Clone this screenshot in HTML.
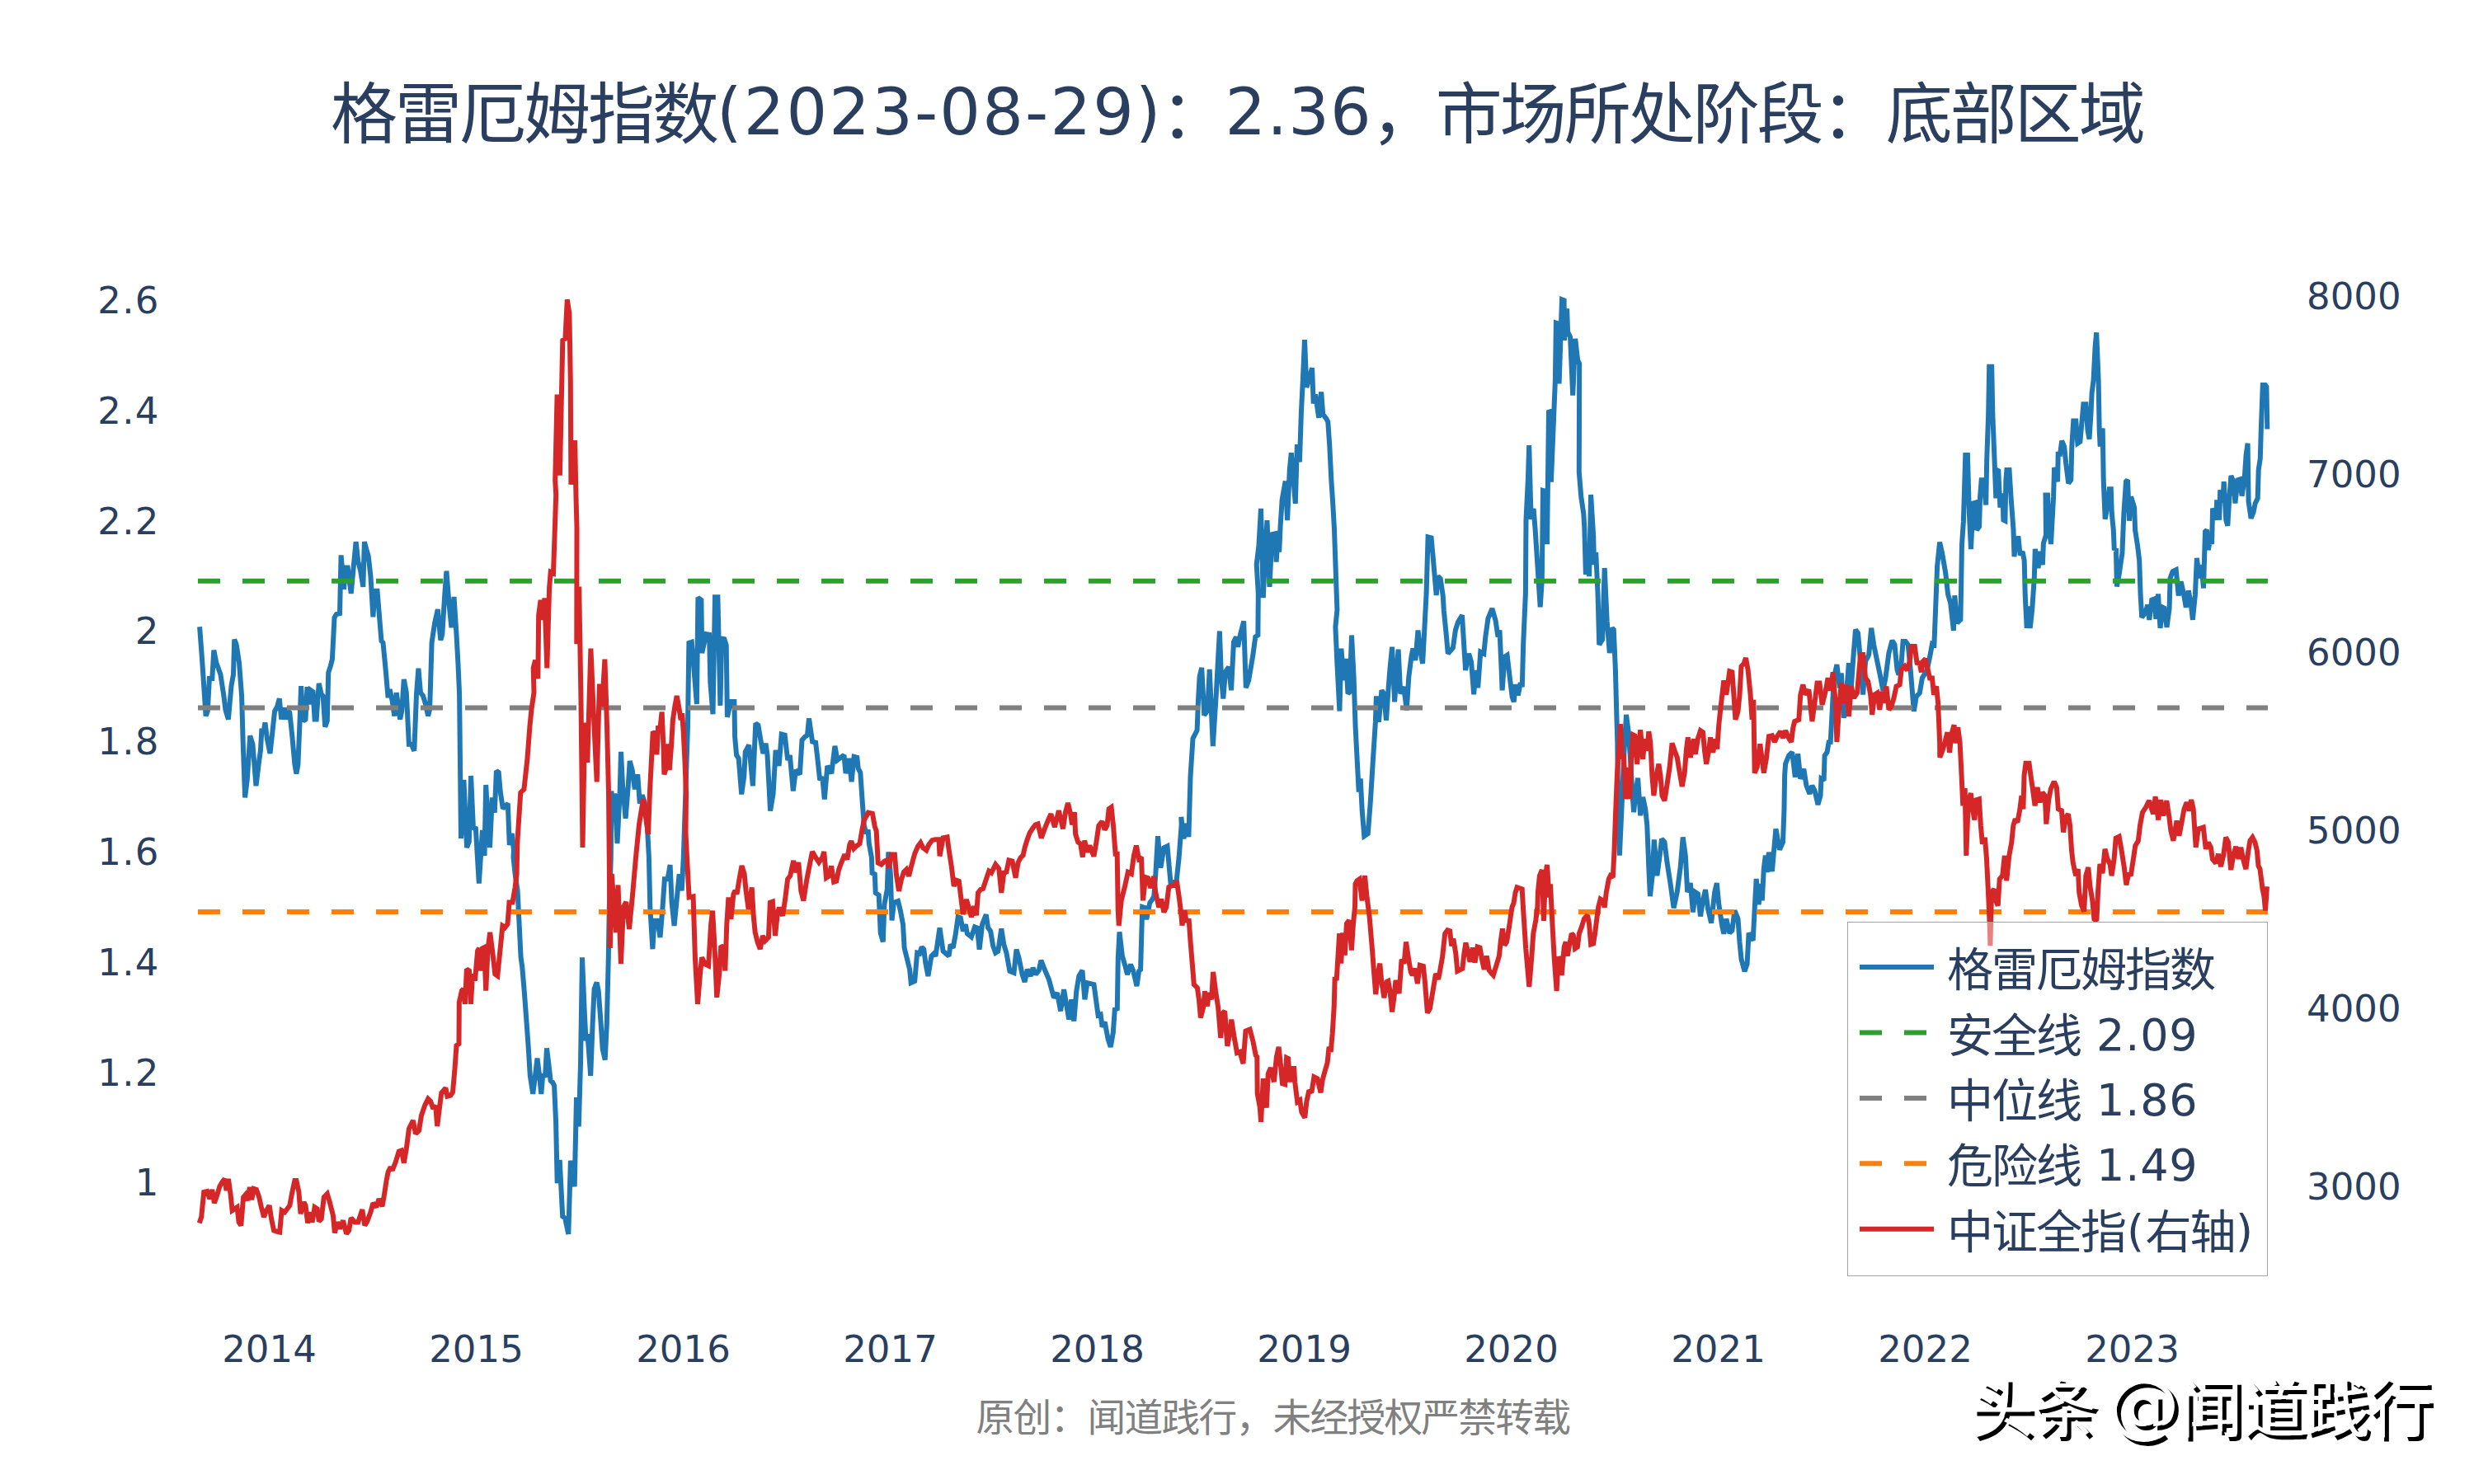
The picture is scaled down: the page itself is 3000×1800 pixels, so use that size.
<!DOCTYPE html>
<html lang="zh"><head><meta charset="utf-8"><title>格雷厄姆指数</title>
<style>
html,body{margin:0;padding:0;background:#fff;}
body{width:3000px;height:1800px;overflow:hidden;}
svg{display:block;}
text{font-family:"DejaVu Sans", "Noto Sans CJK SC", sans-serif;fill:#2a3f5f;}
.tick{font-size:45px;}
.leg{font-size:54px;}
</style></head><body>
<svg width="3000" height="1800" viewBox="0 0 3000 1800">
<rect width="3000" height="1800" fill="#fff"/>
<text x="401.0" y="167.0" style="font-size:81.00px;letter-spacing:-3.00px;">格雷厄姆指数</text>
<text x="869.0" y="163.0" textLength="538.5" style="font-size:78px;">(2023-08-29)</text>
<text x="1407.5" y="167.0" style="font-size:81.00px;letter-spacing:-3.00px;">：</text>
<text x="1485.5" y="163.0" textLength="177.2" style="font-size:78px;">2.36</text>
<text x="1662.7" y="167.0" style="font-size:81.00px;letter-spacing:-3.00px;">，市场所处阶段：底部区域</text>
<path d="M242.1,760.3 L245.2,801.7 L249.6,868.5 L251.8,862.4 L253.9,823.0 L257.3,823.0 L259.3,788.6 L262.3,803.8 L267.4,817.9 L271.4,844.2 L273.5,861.4 L276.9,872.5 L280.5,832.1 L283.0,817.9 L284.2,775.5 L286.6,781.5 L290.0,803.8 L293.1,844.2 L294.7,900.8 L297.1,967.3 L299.8,945.1 L303.2,892.5 L306.4,902.6 L310.5,953.2 L313.9,924.9 L315.9,910.7 L317.3,886.5 L320.0,886.5 L321.4,876.4 L324.0,896.8 L327.5,914.0 L330.5,886.7 L333.1,862.4 L336.1,857.3 L338.8,847.2 L341.2,872.5 L344.2,858.4 L346.3,872.5 L349.3,862.4 L351.3,864.4 L354.3,892.7 L357.4,927.1 L359.4,938.6 L361.4,927.1 L363.4,878.6 L365.1,832.1 L367.5,874.5 L370.5,872.5 L372.5,833.1 L374.6,854.3 L376.6,837.1 L379.6,839.2 L381.6,872.5 L383.7,872.5 L386.7,829.0 L389.7,842.2 L391.7,844.2 L394.2,881.6 L396.8,874.5 L398.2,815.9 L400.8,807.8 L402.9,799.7 L405.5,749.2 L407.9,745.1 L412.0,744.1 L413.6,673.4 L417.0,714.8 L419.0,688.5 L421.7,688.5 L425.7,719.9 L429.2,682.5 L431.6,657.2 L434.2,680.4 L437.2,692.6 L440.3,711.8 L441.9,657.2 L444.3,666.3 L446.7,674.4 L449.4,698.6 L452.4,748.2 L454.4,716.8 L457.5,716.8 L460.5,753.2 L462.5,777.5 L464.5,779.5 L467.6,811.9 L470.6,846.2 L472.6,836.1 L475.7,850.3 L478.3,868.5 L480.7,840.2 L485.2,872.5 L487.2,862.4 L489.8,824.0 L492.8,840.2 L495.9,902.8 L498.9,902.8 L502.3,910.7 L505.0,842.2 L507.4,810.8 L510.0,840.2 L513.1,844.2 L516.1,854.3 L519.1,868.5 L521.1,860.4 L523.6,779.5 L527.2,755.2 L530.8,739.1 L534.3,776.5 L536.3,769.4 L539.3,720.9 L541.4,692.6 L544.4,731.0 L547.4,761.3 L550.5,723.9 L553.5,769.4 L555.5,805.8 L557.1,842.2 L559.0,1017.0 L562.4,946.0 L566.1,1028.0 L568.8,1021.0 L571.1,941.0 L573.9,1004.0 L576.9,1005.0 L580.8,1071.5 L585.0,1007.0 L587.5,1038.0 L589.2,952.0 L592.0,1003.0 L594.0,1028.0 L596.8,967.5 L599.8,985.7 L601.9,935.0 L604.7,937.0 L606.7,960.0 L609.8,980.7 L615.8,974.6 L617.8,1025.0 L620.9,1011.0 L622.9,1031.0 L622.5,1040.0 L624.6,1060.2 L627.6,1080.4 L629.6,1120.9 L631.6,1161.3 L633.3,1173.4 L635.7,1201.7 L638.7,1242.2 L640.7,1270.3 L642.8,1304.7 L646.2,1326.9 L648.8,1306.7 L651.5,1283.5 L653.9,1302.7 L656.3,1326.9 L658.3,1302.7 L661.0,1306.7 L663.0,1271.3 L665.4,1290.5 L667.6,1310.8 L670.1,1312.8 L672.1,1316.8 L674.1,1361.3 L675.7,1435.1 L678.7,1406.8 L682.2,1475.5 L685.2,1477.6 L689.3,1496.8 L691.9,1407.8 L696.7,1439.2 L699.0,1331.0 L701.8,1366.4 L704.0,1290.5 L706.0,1161.3 L708.5,1222.0 L710.5,1262.4 L712.5,1254.3 L716.2,1304.9 L718.6,1242.2 L720.6,1199.7 L723.6,1191.6 L725.7,1201.7 L728.7,1242.2 L730.7,1272.5 L733.7,1285.7 L735.8,1242.2 L737.8,1161.3 L738.8,1100.7 L740.8,1040.0 L741.4,959.4 L743.5,992.7 L745.5,962.4 L748.5,1023.1 L751.6,962.4 L753.0,911.9 L755.0,952.3 L758.6,992.7 L761.7,954.3 L763.7,923.0 L766.7,934.1 L769.8,957.3 L773.2,939.2 L775.8,974.5 L778.9,964.4 L781.9,974.5 L784.9,1002.8 L786.9,1040.0 L788.3,1100.7 L791.4,1151.2 L793.4,1116.8 L797.4,1116.8 L800.5,1137.0 L803.5,1100.7 L805.9,1066.3 L809.6,1066.3 L812.6,1049.1 L814.6,1094.6 L817.6,1122.9 L821.7,1080.4 L823.7,1060.2 L826.7,1080.4 L828.8,1040.0 L834.0,880.0 L835.4,780.0 L838.8,778.8 L844.9,854.0 L846.4,724.9 L850.4,727.9 L851.2,792.2 L856.4,769.1 L860.1,769.7 L861.3,827.3 L864.5,866.2 L867.0,724.3 L870.4,724.3 L873.4,855.9 L875.2,774.6 L878.3,775.2 L880.7,782.5 L881.9,869.8 L886.1,851.0 L890.4,851.0 L891.1,893.7 L893.1,915.9 L895.7,919.9 L899.2,963.4 L902.2,942.2 L903.8,911.9 L908.2,903.8 L912.9,953.3 L916.3,877.5 L919.4,879.5 L922.4,897.7 L925.4,913.9 L928.5,901.7 L930.5,915.9 L934.1,983.6 L937.6,962.4 L940.6,909.8 L944.6,929.0 L947.7,890.6 L951.7,891.6 L955.2,922.0 L957.8,915.9 L961.8,959.4 L964.9,934.1 L969.9,939.2 L972.5,897.7 L976.0,893.7 L979.0,891.6 L981.0,871.4 L985.1,899.7 L989.1,900.7 L991.1,917.9 L994.2,946.2 L997.2,942.2 L999.8,969.5 L1003.3,929.0 L1008.3,938.1 L1012.4,904.8 L1015.4,922.0 L1023.5,915.9 L1025.5,938.1 L1029.6,919.9 L1032.6,948.2 L1035.6,917.9 L1039.3,918.9 L1040.7,932.1 L1043.3,937.1 L1045.7,972.5 L1047.8,1000.8 L1049.8,1008.9 L1052.8,1008.9 L1053.8,1023.1 L1056.9,1040.0 L1057.6,1060.7 L1060.7,1058.6 L1061.7,1082.9 L1065.7,1085.9 L1067.7,1131.4 L1070.8,1142.5 L1072.4,1097.0 L1075.8,1078.9 L1077.4,1033.4 L1079.9,1060.7 L1081.5,1116.3 L1083.9,1095.0 L1089.0,1093.0 L1092.0,1105.1 L1095.0,1121.3 L1096.6,1149.6 L1100.1,1163.8 L1103.1,1175.9 L1104.7,1192.1 L1109.2,1190.1 L1112.2,1155.7 L1115.2,1156.7 L1117.7,1148.6 L1120.3,1151.6 L1122.3,1167.8 L1125.4,1184.0 L1129.4,1159.7 L1132.4,1156.7 L1134.5,1159.7 L1139.5,1125.4 L1143.6,1153.7 L1150.6,1159.7 L1152.6,1145.6 L1155.7,1149.6 L1158.7,1133.4 L1161.7,1112.2 L1164.8,1113.2 L1167.8,1129.4 L1170.8,1121.3 L1172.9,1132.4 L1177.9,1136.5 L1182.0,1124.3 L1185.0,1125.4 L1187.6,1151.6 L1191.1,1121.3 L1195.7,1109.2 L1198.1,1125.4 L1201.2,1129.4 L1204.2,1147.6 L1207.2,1155.7 L1210.3,1153.7 L1214.3,1126.4 L1217.3,1145.6 L1220.4,1155.7 L1224.4,1177.9 L1229.5,1179.9 L1232.5,1151.6 L1235.5,1161.7 L1239.6,1182.0 L1242.6,1191.1 L1245.7,1175.9 L1249.7,1184.0 L1252.7,1173.9 L1255.8,1182.0 L1259.8,1176.9 L1262.4,1164.8 L1265.9,1173.9 L1271.9,1188.0 L1278.0,1210.3 L1282.0,1204.2 L1286.1,1226.4 L1290.1,1200.2 L1296.2,1236.6 L1299.2,1212.3 L1302.3,1238.6 L1305.3,1202.2 L1308.3,1184.0 L1312.4,1176.9 L1315.4,1212.3 L1318.4,1192.1 L1326.5,1194.1 L1331.6,1231.5 L1334.6,1230.5 L1336.6,1245.7 L1339.7,1239.6 L1343.7,1260.8 L1346.7,1269.9 L1349.8,1252.7 L1351.8,1224.4 L1354.8,1223.4 L1355.8,1161.7 L1357.5,1130.4 L1360.9,1159.7 L1363.9,1169.8 L1367.0,1182.0 L1371.0,1169.8 L1374.0,1176.9 L1378.5,1196.1 L1381.1,1177.9 L1383.1,1175.9 L1385.2,1100.1 L1388.2,1101.1 L1390.2,1115.2 L1394.3,1095.0 L1397.3,1091.0 L1399.3,1086.9 L1401.3,1060.7 L1404.0,1014.2 L1407.4,1052.6 L1411.4,1028.3 L1415.5,1026.3 L1419.5,1070.8 L1426.6,1068.7 L1429.6,1040.4 L1432.7,1000.0 L1432.3,990.9 L1435.4,1017.2 L1439.4,999.0 L1441.4,1015.2 L1443.5,942.4 L1446.5,895.9 L1451.6,885.8 L1453.0,849.4 L1454.6,821.1 L1457.2,810.0 L1460.3,867.6 L1464.3,861.5 L1466.7,812.0 L1470.8,905.0 L1474.8,841.3 L1478.9,765.5 L1480.9,821.1 L1483.3,847.4 L1485.9,815.0 L1490.0,809.0 L1493.0,837.3 L1496.0,778.6 L1499.1,772.6 L1501.1,784.7 L1504.1,769.5 L1508.2,753.4 L1510.8,834.2 L1514.2,825.1 L1519.3,794.8 L1522.3,772.6 L1525.4,770.5 L1525.8,720.0 L1523.7,684.6 L1526.4,662.4 L1529.0,616.9 L1531.8,725.1 L1534.5,662.4 L1536.5,631.1 L1539.5,711.9 L1542.5,648.2 L1546.6,647.2 L1547.6,681.6 L1549.6,652.3 L1551.2,669.5 L1552.6,638.1 L1554.7,605.8 L1558.7,583.6 L1561.1,631.1 L1563.8,569.4 L1565.8,549.2 L1568.4,581.5 L1570.8,610.8 L1572.9,539.1 L1575.9,560.3 L1577.9,500.7 L1579.9,460.2 L1582.0,412.1 L1584.4,469.9 L1591.1,446.3 L1592.7,489.5 L1595.1,478.4 L1599.2,506.7 L1602.2,475.4 L1604.2,502.7 L1608.2,507.7 L1610.3,511.8 L1612.3,541.1 L1614.3,581.5 L1616.3,611.9 L1618.0,642.2 L1619.4,682.6 L1621.4,740.0 L1619.4,760.4 L1621.4,804.9 L1624.4,862.5 L1626.4,786.7 L1629.5,825.1 L1632.1,798.9 L1634.5,841.3 L1636.6,839.3 L1639.0,770.5 L1641.6,821.1 L1643.6,881.7 L1645.7,922.2 L1647.7,960.6 L1649.7,944.4 L1651.7,982.8 L1654.3,1014.2 L1658.8,1011.1 L1661.8,972.7 L1664.9,922.2 L1667.9,875.7 L1668.9,844.3 L1671.9,875.7 L1675.4,837.3 L1678.0,841.3 L1681.0,873.7 L1683.1,841.3 L1685.5,811.0 L1688.1,784.7 L1691.1,851.4 L1695.6,787.7 L1698.2,841.3 L1702.3,833.2 L1705.7,861.5 L1708.3,821.1 L1711.4,796.8 L1713.4,786.7 L1716.4,800.9 L1719.5,764.5 L1722.5,790.8 L1725.1,804.9 L1727.5,760.4 L1729.6,720.0 L1731.6,651.3 L1735.6,652.3 L1737.6,674.5 L1741.7,722.0 L1743.7,698.8 L1746.7,701.8 L1749.8,723.0 L1750.8,740.2 L1753.8,770.5 L1755.8,792.8 L1761.9,785.7 L1764.9,764.5 L1768.0,754.4 L1773.0,746.3 L1775.1,780.7 L1777.1,813.0 L1781.1,792.8 L1784.1,802.9 L1787.2,842.3 L1789.2,813.0 L1792.2,834.2 L1795.3,790.8 L1799.3,792.8 L1801.3,772.6 L1804.4,750.3 L1809.4,738.2 L1813.5,752.3 L1816.5,772.6 L1818.5,764.5 L1820.5,809.0 L1821.6,837.3 L1824.6,796.8 L1827.6,794.8 L1830.7,821.1 L1833.7,845.4 L1835.7,851.4 L1837.7,830.2 L1840.8,843.3 L1843.8,828.2 L1845.8,833.2 L1847.2,780.7 L1849.9,720.0 L1850.5,630.1 L1852.9,581.5 L1854.2,540.2 L1856.6,629.9 L1859.6,617.0 L1861.7,643.3 L1867.7,736.3 L1869.8,703.9 L1871.0,595.0 L1874.0,595.8 L1876.0,660.1 L1878.0,499.9 L1881.9,498.5 L1880.9,584.6 L1885.9,461.3 L1886.9,391.6 L1890.0,392.6 L1890.6,465.4 L1894.0,363.3 L1896.6,364.3 L1897.0,412.8 L1900.1,374.4 L1901.1,402.7 L1904.1,408.7 L1907.2,479.5 L1910.2,410.8 L1913.2,437.0 L1915.2,441.1 L1914.8,572.5 L1917.3,602.8 L1920.3,623.1 L1921.3,640.0 L1922.9,697.0 L1925.7,670.8 L1927.1,699.1 L1929.1,600.0 L1932.2,650.5 L1933.0,684.9 L1935.2,669.8 L1937.6,721.3 L1939.2,782.0 L1943.1,775.9 L1945.7,689.0 L1948.7,753.7 L1951.8,792.1 L1954.8,761.7 L1956.8,763.8 L1958.9,812.3 L1960.5,872.9 L1961.3,900.0 L1961.9,960.9 L1963.9,1037.7 L1966.9,971.0 L1969.0,920.4 L1972.0,866.9 L1975.0,890.1 L1977.0,920.4 L1979.1,956.8 L1981.1,985.1 L1983.5,960.9 L1986.1,943.7 L1989.2,989.2 L1992.2,966.9 L1995.2,981.1 L1997.3,1001.3 L1999.3,1051.9 L2000.9,1087.2 L2003.7,1062.0 L2005.8,1018.5 L2009.4,1062.0 L2012.4,1039.7 L2015.1,1017.5 L2018.5,1021.5 L2021.5,1045.8 L2025.6,1072.1 L2029.6,1101.4 L2033.7,1082.2 L2037.7,1051.9 L2040.7,1015.5 L2043.8,1037.7 L2046.2,1082.2 L2049.8,1071.1 L2052.9,1106.4 L2055.9,1082.2 L2058.9,1084.2 L2062.0,1111.5 L2065.0,1092.3 L2068.0,1079.2 L2071.1,1102.4 L2075.1,1119.6 L2079.2,1082.2 L2081.8,1071.1 L2084.2,1096.3 L2088.2,1122.6 L2090.3,1132.7 L2093.3,1114.5 L2097.3,1131.7 L2100.4,1128.7 L2103.4,1104.4 L2107.5,1114.5 L2109.5,1142.8 L2111.5,1163.1 L2115.5,1178.2 L2118.6,1169.1 L2120.6,1131.7 L2125.7,1140.8 L2127.7,1102.4 L2129.7,1066.0 L2132.7,1097.3 L2135.2,1072.1 L2136.8,1092.3 L2138.8,1053.9 L2140.8,1037.7 L2142.8,1057.9 L2144.9,1033.7 L2148.9,1056.9 L2150.9,1033.7 L2153.4,1005.4 L2158.0,1030.6 L2162.0,1021.5 L2163.5,981.1 L2164.1,940.7 L2165.1,926.5 L2169.1,916.4 L2173.2,912.3 L2176.8,942.7 L2180.2,914.4 L2183.3,944.7 L2187.3,932.6 L2190.4,952.8 L2194.4,962.9 L2197.4,952.8 L2200.5,958.9 L2204.5,976.0 L2207.5,964.9 L2208.5,944.7 L2211.6,946.7 L2212.6,916.4 L2215.6,912.3 L2217.6,900.2 L2219.7,900.0 L2221.7,862.8 L2223.7,822.4 L2227.4,806.2 L2230.8,834.5 L2232.8,816.3 L2235.8,870.9 L2238.9,842.6 L2241.9,804.2 L2244.9,832.5 L2247.0,802.2 L2250.0,763.8 L2253.0,767.8 L2256.1,802.2 L2259.1,842.6 L2262.1,802.2 L2266.2,794.1 L2269.2,761.7 L2272.2,782.0 L2276.3,802.2 L2279.3,816.3 L2283.4,837.6 L2286.4,822.4 L2290.4,792.1 L2294.5,776.9 L2297.5,782.0 L2300.5,812.3 L2302.6,818.4 L2305.6,804.2 L2307.6,777.9 L2310.7,777.9 L2313.7,782.0 L2316.7,812.3 L2320.8,862.8 L2323.8,844.6 L2327.8,840.6 L2330.9,822.4 L2336.9,812.3 L2341.0,792.1 L2343.0,781.0 L2345.4,782.0 L2347.0,741.5 L2349.1,686.9 L2352.1,657.6 L2355.1,670.8 L2359.2,695.0 L2362.2,721.3 L2365.2,731.4 L2368.9,764.8 L2370.3,722.3 L2373.3,755.7 L2377.4,751.6 L2379.0,660.7 L2380.9,632.7 L2383.3,551.9 L2385.9,551.9 L2387.9,622.6 L2390.0,666.1 L2392.6,610.5 L2396.0,609.5 L2397.0,642.8 L2400.1,638.8 L2401.1,602.4 L2402.7,582.2 L2405.1,582.2 L2408.2,612.5 L2409.2,557.9 L2411.2,501.3 L2412.2,444.7 L2415.2,444.7 L2416.3,501.3 L2418.3,551.9 L2420.3,604.4 L2421.3,570.1 L2423.3,571.1 L2425.4,615.5 L2428.4,598.4 L2429.4,630.7 L2431.4,631.7 L2432.4,582.2 L2433.4,570.1 L2436.5,570.1 L2438.5,602.4 L2441.5,642.8 L2442.5,675.2 L2444.6,652.9 L2447.6,652.9 L2449.6,673.2 L2452.6,669.1 L2454.7,680.0 L2455.7,721.5 L2457.7,761.9 L2459.7,735.6 L2461.7,761.9 L2464.2,739.7 L2466.8,701.3 L2467.8,665.9 L2471.5,689.1 L2473.9,668.9 L2476.9,685.1 L2477.9,659.0 L2481.0,648.9 L2480.5,600.4 L2483.0,600.4 L2485.0,642.8 L2487.0,660.0 L2490.1,602.4 L2491.1,567.0 L2495.1,584.2 L2495.7,550.8 L2498.1,550.8 L2500.2,534.7 L2503.2,541.7 L2505.2,562.0 L2508.2,586.2 L2511.3,582.2 L2512.3,541.7 L2514.3,510.4 L2517.3,510.4 L2519.4,537.7 L2522.4,535.7 L2526.4,490.2 L2529.5,490.2 L2531.5,521.5 L2533.5,532.6 L2535.5,501.3 L2536.6,477.0 L2538.6,460.9 L2540.6,420.4 L2542.2,403.3 L2544.6,460.9 L2545.7,521.5 L2546.7,541.7 L2549.7,519.5 L2550.7,582.2 L2552.7,629.7 L2555.8,612.5 L2557.8,593.3 L2559.8,593.3 L2560.8,622.6 L2562.8,642.8 L2563.8,667.1 L2565.9,665.1 L2566.9,711.4 L2569.9,695.2 L2571.9,681.1 L2573.4,671.1 L2575.4,622.6 L2578.0,584.2 L2580.0,582.2 L2582.0,631.7 L2584.1,602.4 L2588.1,615.5 L2589.1,642.8 L2592.2,663.1 L2594.2,680.0 L2595.6,721.5 L2597.2,748.8 L2601.3,743.7 L2604.3,733.6 L2606.3,751.8 L2609.3,727.6 L2612.4,726.5 L2614.4,750.8 L2617.0,720.5 L2619.5,761.9 L2622.5,736.7 L2624.5,737.7 L2627.5,760.9 L2630.6,737.7 L2631.6,701.3 L2634.6,693.2 L2638.7,691.2 L2641.7,722.5 L2644.7,705.3 L2647.8,719.5 L2650.8,736.7 L2653.8,716.4 L2656.9,733.6 L2658.9,751.8 L2661.9,721.5 L2663.9,677.0 L2667.0,701.3 L2669.6,685.1 L2672.0,713.4 L2674.0,644.9 L2676.1,642.8 L2677.7,667.1 L2680.1,655.0 L2682.1,660.0 L2683.1,616.6 L2687.2,630.7 L2688.2,606.4 L2691.2,630.7 L2692.2,594.3 L2695.3,609.5 L2696.7,584.2 L2699.3,630.7 L2701.3,637.8 L2703.4,602.4 L2705.4,577.1 L2708.4,584.2 L2710.4,610.5 L2713.5,582.2 L2716.5,581.2 L2718.5,601.4 L2721.6,582.2 L2723.6,551.9 L2725.6,537.7 L2726.6,608.5 L2729.6,628.7 L2732.7,620.6 L2734.7,610.5 L2737.7,604.4 L2738.7,570.1 L2740.8,555.9 L2741.8,521.5 L2743.8,466.9 L2746.8,466.9 L2748.4,469.0 L2749.3,520.5" fill="none" stroke="#1f77b4" stroke-width="6" stroke-linejoin="miter" stroke-miterlimit="2" stroke-linecap="butt"/>
<path d="M240,704.7 L2750,704.7" fill="none" stroke="#2ca02c" stroke-width="6" stroke-dasharray="27,27"/>
<path d="M240,858.6 L2750,858.6" fill="none" stroke="#7f7f7f" stroke-width="6" stroke-dasharray="27,27"/>
<path d="M240,1106.1 L2750,1106.1" fill="none" stroke="#ff7f0e" stroke-width="6" stroke-dasharray="27,27"/>
<path d="M241.7,1483.4 L244.2,1476.3 L247.2,1446.0 L251.2,1445.0 L254.3,1454.1 L257.3,1443.0 L259.9,1459.2 L263.4,1449.0 L266.4,1438.9 L269.4,1433.9 L272.5,1429.8 L274.5,1444.0 L276.9,1429.8 L279.5,1448.0 L281.6,1468.2 L284.6,1466.2 L287.6,1464.2 L289.6,1482.4 L292.3,1486.4 L295.1,1452.1 L297.7,1449.0 L300.4,1456.1 L302.8,1439.9 L305.2,1455.1 L307.8,1442.0 L310.9,1443.0 L313.9,1451.1 L316.9,1464.2 L320.0,1476.3 L323.0,1468.2 L326.6,1462.2 L329.1,1478.4 L332.1,1492.5 L335.1,1493.5 L339.2,1494.5 L341.6,1468.2 L345.2,1470.3 L348.3,1466.2 L351.3,1462.2 L354.3,1446.0 L357.4,1431.9 L359.4,1431.9 L362.4,1446.0 L364.5,1472.3 L368.5,1458.1 L370.5,1462.2 L373.1,1483.4 L376.6,1470.3 L378.6,1482.4 L381.6,1464.2 L384.7,1466.2 L386.7,1481.4 L389.7,1478.4 L392.8,1452.1 L396.8,1448.0 L399.8,1458.1 L403.9,1474.3 L405.9,1495.5 L408.9,1482.4 L412.0,1490.5 L416.0,1480.4 L420.1,1496.6 L423.1,1492.5 L425.7,1477.3 L430.2,1482.4 L434.2,1482.4 L439.3,1467.2 L442.3,1486.4 L445.3,1481.4 L449.4,1470.3 L452.4,1459.2 L456.4,1464.2 L459.5,1454.1 L463.5,1463.2 L465.5,1452.1 L468.6,1431.9 L470.6,1421.7 L473.6,1415.7 L475.7,1419.7 L479.7,1409.6 L483.7,1396.5 L486.8,1395.5 L489.8,1410.6 L492.8,1393.4 L495.9,1369.2 L500.9,1359.1 L504.0,1375.2 L508.0,1371.2 L511.0,1353.0 L515.1,1340.9 L519.1,1332.8 L522.2,1335.8 L525.2,1344.9 L528.2,1340.9 L530.2,1366.1 L533.3,1340.9 L535.3,1325.7 L540.4,1319.6 L542.4,1329.8 L546.4,1328.7 L549.0,1324.7 L551.5,1296.4 L553.5,1268.1 L556.5,1266.1 L556.8,1215.9 L559.9,1201.7 L561.9,1199.7 L563.9,1217.9 L565.9,1175.5 L569.0,1177.5 L571.0,1217.9 L573.0,1181.5 L576.0,1189.6 L579.1,1153.2 L581.1,1150.2 L583.1,1177.5 L585.1,1150.2 L587.2,1149.2 L589.2,1201.7 L591.6,1151.2 L594.2,1131.0 L597.3,1155.2 L600.3,1181.5 L603.3,1183.6 L606.4,1153.2 L609.4,1122.9 L612.4,1124.9 L615.5,1120.9 L617.5,1094.6 L621.5,1094.6 L624.6,1076.4 L626.6,1060.2 L627.3,1022.0 L631.3,961.3 L635.4,957.3 L639.4,920.9 L642.5,880.4 L644.5,860.2 L647.5,840.0 L646.7,810.3 L649.1,800.6 L652.3,823.2 L653.2,745.6 L655.6,727.8 L658.0,752.0 L660.4,725.4 L663.3,810.3 L666.1,713.2 L667.7,693.8 L671.0,695.4 L672.6,648.5 L674.2,600.0 L673.2,582.6 L675.6,478.5 L678.9,576.6 L682.3,412.8 L685.4,410.8 L687.8,363.3 L690.4,380.4 L691.8,461.3 L692.4,587.7 L697.1,534.1 L698.5,602.8 L699.5,640.0 L699.3,781.2 L702.2,711.6 L704.5,850.0 L706.5,1028.0 L709.1,876.5 L712.3,925.0 L716.4,786.7 L720.0,870.0 L723.7,948.4 L726.9,829.6 L730.1,857.0 L733.4,799.6 L735.8,873.2 L738.0,960.0 L739.8,1150.0 L741.8,1060.0 L746.9,1131.0 L749.5,1073.5 L752.9,1169.0 L756.0,1100.0 L759.3,1094.0 L763.0,1127.0 L767.1,1085.0 L771.0,1040.0 L775.0,1000.0 L780.0,969.0 L786.0,1012.0 L788.0,960.0 L790.0,921.7 L791.6,889.4 L794.0,888.6 L796.5,915.3 L798.1,880.5 L800.5,882.9 L802.6,863.5 L804.5,905.6 L805.4,939.5 L807.8,931.5 L809.4,902.3 L811.8,933.9 L814.2,902.3 L815.9,873.2 L818.3,857.0 L820.7,844.1 L823.1,857.0 L825.6,873.2 L827.2,865.1 L828.8,889.4 L830.4,921.7 L832.0,962.2 L831.5,1010.5 L833.6,1051.0 L835.6,1088.4 L840.6,1087.4 L842.9,1161.3 L846.0,1217.9 L849.0,1181.5 L851.0,1161.3 L855.1,1169.4 L859.1,1171.4 L862.1,1120.9 L864.1,1104.7 L867.2,1161.3 L869.2,1209.8 L872.2,1181.5 L874.3,1147.2 L877.3,1149.2 L879.3,1177.5 L881.3,1120.9 L883.4,1088.5 L886.4,1114.8 L889.4,1084.5 L891.4,1080.4 L893.5,1084.5 L896.5,1066.3 L899.5,1050.1 L902.6,1060.2 L904.6,1080.4 L907.6,1102.7 L911.7,1076.4 L913.7,1110.8 L915.7,1131.0 L918.7,1143.1 L921.8,1151.2 L924.8,1135.0 L927.8,1141.1 L931.9,1137.0 L933.9,1094.6 L936.9,1093.6 L940.0,1135.0 L943.0,1106.7 L945.0,1100.7 L949.1,1110.8 L952.1,1090.5 L955.1,1066.3 L958.2,1062.2 L962.2,1044.0 L965.2,1058.2 L968.3,1046.1 L971.3,1080.4 L974.3,1092.6 L978.4,1066.3 L985.0,1033.0 L989.0,1040.0 L993.0,1046.0 L997.2,1040.0 L999.2,1033.0 L1002.0,1064.7 L1005.1,1062.7 L1008.1,1050.5 L1011.1,1069.8 L1014.2,1068.7 L1017.2,1054.6 L1020.2,1046.5 L1024.3,1036.4 L1027.3,1042.5 L1030.3,1024.3 L1032.3,1020.2 L1035.4,1029.3 L1038.4,1026.3 L1042.5,1023.3 L1045.5,1006.1 L1047.8,994.8 L1052.8,985.7 L1057.9,986.7 L1060.9,1003.0 L1062.7,1008.1 L1064.7,1046.5 L1068.7,1048.5 L1072.8,1044.5 L1075.8,1043.5 L1077.8,1052.6 L1080.9,1036.4 L1084.9,1036.4 L1086.9,1060.7 L1090.0,1080.9 L1093.0,1066.7 L1096.0,1057.6 L1099.1,1054.6 L1102.1,1062.7 L1105.1,1050.5 L1109.2,1035.4 L1113.2,1026.3 L1116.3,1022.2 L1119.3,1028.3 L1123.3,1031.3 L1126.4,1024.3 L1130.4,1019.2 L1134.5,1018.2 L1138.5,1018.2 L1139.5,1038.4 L1143.6,1016.2 L1148.6,1015.2 L1150.6,1030.3 L1153.7,1050.5 L1156.7,1074.8 L1159.7,1067.7 L1162.8,1068.7 L1164.8,1084.9 L1167.8,1109.2 L1171.9,1091.0 L1174.9,1101.1 L1177.9,1112.2 L1181.0,1099.1 L1184.0,1110.2 L1186.0,1082.9 L1189.0,1078.9 L1192.1,1077.8 L1195.1,1068.7 L1199.2,1056.6 L1202.2,1058.6 L1207.2,1048.5 L1211.3,1053.6 L1214.3,1082.9 L1217.3,1058.6 L1220.4,1057.6 L1223.4,1043.5 L1227.5,1044.5 L1231.5,1064.7 L1234.5,1046.5 L1237.6,1040.4 L1240.6,1037.4 L1242.6,1028.3 L1245.7,1018.2 L1248.7,1010.1 L1252.7,1004.0 L1255.6,1000.3 L1258.6,999.3 L1262.7,1016.5 L1266.7,1005.4 L1270.8,995.2 L1274.4,987.2 L1278.9,1003.3 L1283.9,983.1 L1289.0,1005.4 L1292.0,985.1 L1295.0,974.0 L1298.1,987.2 L1300.1,1000.3 L1303.1,985.1 L1304.1,1011.4 L1307.2,1021.5 L1310.2,1023.6 L1312.8,1039.7 L1315.2,1019.5 L1318.3,1033.7 L1321.3,1025.6 L1326.4,1038.7 L1329.4,1021.5 L1332.4,1001.3 L1336.5,996.3 L1339.5,1006.4 L1342.5,1001.3 L1344.6,981.1 L1347.6,979.1 L1350.0,1001.3 L1352.6,1035.7 L1354.7,1035.7 L1355.7,1102.4 L1356.7,1122.6 L1359.7,1092.3 L1363.8,1076.1 L1367.8,1057.9 L1371.9,1059.9 L1374.9,1037.7 L1377.9,1025.6 L1381.0,1041.7 L1384.0,1039.7 L1386.0,1092.3 L1389.0,1064.0 L1392.1,1065.0 L1395.1,1077.1 L1399.2,1063.0 L1401.2,1082.2 L1405.2,1100.4 L1408.2,1090.3 L1411.3,1106.4 L1414.3,1100.4 L1417.3,1076.1 L1421.4,1074.1 L1424.4,1074.1 L1426.8,1068.0 L1429.5,1086.2 L1432.1,1106.4 L1433.5,1122.6 L1436.6,1104.4 L1438.6,1118.6 L1441.6,1114.5 L1443.6,1142.8 L1446.7,1180.0 L1447.8,1194.1 L1451.9,1198.1 L1453.9,1212.3 L1455.9,1234.5 L1459.0,1222.4 L1461.0,1202.2 L1464.0,1220.4 L1466.0,1204.2 L1469.1,1212.3 L1471.1,1178.9 L1474.1,1202.2 L1477.2,1222.4 L1480.2,1258.8 L1483.2,1228.5 L1485.2,1226.4 L1488.3,1268.9 L1491.3,1252.7 L1493.3,1236.6 L1496.4,1256.8 L1500.0,1277.0 L1503.5,1275.9 L1507.5,1290.1 L1510.5,1250.6 L1515.6,1248.6 L1519.6,1263.8 L1522.7,1279.9 L1524.3,1282.0 L1524.7,1326.4 L1527.7,1342.6 L1529.1,1360.8 L1531.8,1308.2 L1535.8,1343.6 L1537.8,1302.2 L1540.9,1295.1 L1544.9,1312.3 L1547.9,1282.0 L1550.6,1269.8 L1553.0,1292.1 L1555.0,1314.3 L1558.1,1315.3 L1560.1,1283.0 L1562.1,1284.0 L1564.1,1312.3 L1566.8,1296.1 L1569.2,1296.1 L1570.2,1312.3 L1573.2,1336.6 L1576.3,1334.5 L1578.3,1348.7 L1582.3,1355.8 L1584.3,1336.6 L1587.4,1322.4 L1590.4,1325.4 L1593.4,1306.2 L1597.5,1308.2 L1601.5,1325.4 L1603.6,1310.3 L1606.6,1299.2 L1609.6,1289.0 L1611.6,1269.8 L1613.7,1275.9 L1615.7,1253.7 L1617.7,1221.3 L1618.7,1184.9 L1620.7,1189.0 L1622.8,1154.6 L1624.2,1132.3 L1626.2,1168.7 L1628.2,1131.3 L1630.8,1158.6 L1632.9,1120.2 L1635.9,1116.2 L1638.9,1152.6 L1641.0,1120.2 L1643.0,1100.0 L1643.5,1072.3 L1645.5,1068.2 L1648.5,1066.2 L1651.6,1092.5 L1655.0,1062.2 L1657.6,1088.5 L1660.7,1112.7 L1664.2,1154.6 L1666.2,1180.9 L1668.2,1206.1 L1671.3,1178.9 L1673.3,1168.7 L1675.3,1191.0 L1678.4,1210.2 L1681.4,1191.0 L1683.4,1190.0 L1685.4,1201.1 L1688.1,1227.4 L1690.5,1209.2 L1692.5,1189.0 L1696.6,1205.1 L1699.6,1163.7 L1702.6,1168.7 L1705.0,1142.5 L1707.7,1160.7 L1710.7,1178.9 L1712.7,1182.9 L1715.8,1174.8 L1718.8,1193.0 L1721.8,1170.8 L1725.9,1171.8 L1727.9,1191.0 L1730.9,1228.4 L1734.0,1223.3 L1737.0,1205.1 L1741.0,1180.9 L1744.1,1187.9 L1746.1,1177.8 L1749.1,1160.7 L1752.2,1132.3 L1755.2,1128.3 L1758.2,1129.3 L1760.2,1147.5 L1762.3,1138.4 L1765.3,1156.6 L1767.3,1177.8 L1773.4,1174.8 L1775.4,1156.6 L1777.4,1143.5 L1780.5,1156.6 L1782.5,1166.7 L1785.9,1149.5 L1788.5,1167.7 L1791.6,1148.5 L1794.6,1149.5 L1797.6,1166.7 L1799.7,1175.8 L1802.7,1159.6 L1805.7,1176.8 L1808.8,1180.9 L1810.8,1182.9 L1814.8,1169.8 L1817.9,1159.6 L1819.9,1140.4 L1821.9,1126.3 L1824.3,1146.5 L1827.0,1142.5 L1830.0,1124.3 L1832.0,1110.1 L1833.6,1100.0 L1835.5,1095.5 L1837.6,1082.4 L1839.6,1076.3 L1842.6,1077.3 L1845.7,1078.4 L1847.1,1102.6 L1850.2,1150.5 L1854.3,1197.0 L1857.3,1160.7 L1859.3,1132.3 L1862.3,1116.2 L1864.4,1100.0 L1864.9,1082.4 L1866.9,1062.2 L1869.9,1055.1 L1871.9,1116.8 L1874.0,1062.2 L1876.0,1049.0 L1878.6,1088.5 L1880.0,1072.3 L1882.0,1112.7 L1884.6,1160.7 L1887.6,1202.1 L1889.6,1160.7 L1891.7,1164.7 L1893.7,1182.9 L1896.7,1148.5 L1898.7,1142.5 L1900.8,1159.6 L1902.8,1147.5 L1905.8,1132.3 L1907.8,1134.4 L1909.9,1150.5 L1912.9,1148.5 L1914.9,1132.3 L1917.9,1124.3 L1921.0,1114.2 L1925.0,1110.1 L1927.0,1120.2 L1929.1,1145.5 L1932.1,1144.5 L1934.1,1132.3 L1936.1,1116.2 L1938.2,1100.0 L1940.7,1090.5 L1943.7,1092.5 L1945.7,1100.6 L1947.8,1082.4 L1950.8,1066.2 L1952.8,1062.2 L1955.8,1064.2 L1957.5,1031.9 L1958.9,991.4 L1960.9,940.9 L1962.9,910.5 L1964.9,878.2 L1967.0,920.7 L1969.0,914.6 L1971.0,969.2 L1974.0,930.8 L1976.1,969.2 L1978.1,920.7 L1980.1,891.3 L1982.1,892.3 L1985.2,926.7 L1987.2,900.4 L1989.2,885.3 L1992.2,920.7 L1994.3,896.4 L1997.3,910.5 L1999.3,887.3 L2001.3,900.4 L2003.4,940.9 L2005.4,965.1 L2008.4,940.9 L2011.4,926.7 L2013.5,940.9 L2015.5,965.1 L2018.5,971.2 L2021.6,951.0 L2024.6,930.8 L2027.6,901.4 L2030.7,910.5 L2033.7,918.6 L2035.7,930.8 L2039.7,954.0 L2042.8,936.8 L2044.8,910.5 L2046.8,894.4 L2049.9,918.6 L2053.9,896.4 L2055.9,914.6 L2059.0,895.4 L2062.0,886.3 L2065.0,888.3 L2067.0,910.5 L2069.1,926.7 L2072.1,910.5 L2074.1,894.4 L2077.2,912.6 L2080.2,896.4 L2082.2,908.5 L2084.2,880.2 L2086.3,860.0 L2090.3,825.4 L2093.3,842.6 L2097.3,814.3 L2100.4,815.3 L2102.4,842.6 L2104.4,872.9 L2107.5,862.8 L2109.5,842.6 L2111.5,808.2 L2114.5,805.2 L2117.0,798.1 L2119.6,812.3 L2122.6,842.6 L2124.6,872.9 L2126.3,848.7 L2127.7,937.6 L2130.7,930.6 L2134.3,902.3 L2138.8,937.6 L2141.8,920.5 L2144.9,893.2 L2148.9,892.2 L2151.9,900.0 L2155.0,893.2 L2159.0,887.1 L2162.0,895.2 L2165.1,886.1 L2169.1,895.2 L2172.2,900.0 L2174.2,883.1 L2176.2,875.0 L2181.3,872.9 L2183.3,842.6 L2186.3,830.5 L2189.3,842.6 L2193.4,836.6 L2197.4,875.0 L2200.5,852.7 L2203.5,828.5 L2206.5,828.5 L2209.6,854.8 L2213.6,838.6 L2216.6,822.4 L2219.7,837.6 L2222.7,815.3 L2225.7,852.7 L2227.4,900.0 L2229.8,862.8 L2232.8,828.5 L2235.8,852.7 L2238.9,830.5 L2241.9,868.9 L2244.9,832.5 L2248.0,846.7 L2252.0,840.6 L2256.1,794.1 L2259.1,794.1 L2262.1,822.4 L2265.2,826.4 L2268.2,842.6 L2270.2,866.9 L2273.2,842.6 L2276.3,840.6 L2279.3,860.8 L2282.3,838.6 L2284.4,852.7 L2287.4,832.5 L2290.4,860.8 L2293.5,856.8 L2296.5,846.7 L2299.5,832.5 L2303.6,830.5 L2305.6,812.3 L2309.6,808.2 L2312.7,813.3 L2315.7,802.2 L2317.7,784.0 L2321.8,784.0 L2324.8,806.2 L2327.2,802.2 L2329.9,815.3 L2331.9,802.2 L2334.9,799.2 L2337.3,810.3 L2340.0,822.4 L2343.0,822.4 L2345.0,842.6 L2348.1,832.5 L2350.1,852.7 L2352.1,900.0 L2352.3,918.6 L2355.4,910.5 L2358.4,900.4 L2361.4,888.3 L2364.1,912.6 L2366.5,890.3 L2369.5,879.2 L2371.6,901.4 L2374.2,882.2 L2376.6,900.4 L2378.6,940.9 L2380.3,977.3 L2382.7,956.0 L2384.3,1037.9 L2386.7,973.2 L2389.8,962.1 L2391.8,981.3 L2394.4,994.5 L2396.4,970.2 L2399.9,969.2 L2401.9,1001.5 L2403.9,1023.8 L2406.9,1015.7 L2409.0,1042.0 L2411.0,1082.4 L2412.6,1118.8 L2413.4,1147.1 L2415.0,1082.4 L2418.1,1078.4 L2420.1,1092.5 L2422.7,1098.6 L2424.7,1066.2 L2428.2,1062.2 L2430.8,1037.9 L2433.2,1068.2 L2436.3,1037.9 L2439.3,1021.7 L2441.3,1001.5 L2443.7,993.4 L2446.4,997.5 L2449.4,981.3 L2451.4,965.1 L2453.4,981.3 L2454.5,940.9 L2456.5,925.7 L2460.5,925.7 L2462.5,940.9 L2464.6,955.0 L2467.6,977.3 L2470.6,955.0 L2473.7,973.2 L2476.7,961.1 L2479.7,965.1 L2481.3,999.5 L2484.2,970.2 L2486.8,957.0 L2490.8,947.9 L2493.9,955.0 L2495.9,981.3 L2499.9,983.3 L2502.0,1009.6 L2505.0,991.4 L2508.0,987.4 L2510.1,1001.5 L2512.1,1031.9 L2513.7,1046.0 L2517.1,1062.2 L2519.8,1054.1 L2521.2,1082.4 L2524.2,1098.6 L2527.2,1105.7 L2529.3,1062.2 L2532.3,1052.1 L2534.3,1074.3 L2537.3,1092.5 L2539.4,1114.8 L2542.4,1116.8 L2544.0,1082.4 L2546.4,1048.0 L2549.5,1059.2 L2552.5,1029.8 L2555.5,1042.0 L2558.6,1048.0 L2560.6,1062.2 L2563.6,1042.0 L2565.7,1016.7 L2569.7,1014.7 L2572.7,1031.9 L2575.8,1052.1 L2578.4,1073.3 L2581.2,1059.2 L2583.8,1062.2 L2586.9,1042.0 L2589.3,1025.8 L2592.9,1019.7 L2595.0,1001.5 L2598.0,985.4 L2602.0,979.3 L2606.1,971.2 L2609.1,981.3 L2611.1,987.4 L2613.6,966.1 L2617.2,994.5 L2620.2,970.2 L2623.3,989.4 L2627.3,971.2 L2630.4,991.4 L2632.4,1007.6 L2635.4,1019.7 L2639.5,995.5 L2642.5,1013.7 L2645.5,997.5 L2648.5,981.3 L2651.6,973.2 L2654.6,983.3 L2657.2,970.2 L2659.7,981.3 L2662.7,1027.8 L2665.7,1005.6 L2671.8,1003.6 L2674.8,1029.8 L2677.9,1021.7 L2680.9,1027.8 L2682.9,1042.0 L2687.0,1047.0 L2690.0,1035.9 L2693.0,1051.1 L2696.1,1037.9 L2699.1,1015.7 L2702.1,1021.7 L2705.2,1055.1 L2708.2,1037.9 L2711.2,1026.8 L2714.3,1042.0 L2717.3,1027.8 L2720.3,1043.0 L2723.4,1054.1 L2726.4,1031.9 L2728.4,1019.7 L2731.4,1015.7 L2734.5,1021.7 L2736.9,1031.9 L2738.5,1050.1 L2740.5,1054.1 L2743.6,1078.4 L2745.6,1088.5 L2747.0,1104.6 L2749.0,1075.3" fill="none" stroke="#d62728" stroke-width="6" stroke-linejoin="miter" stroke-miterlimit="2" stroke-linecap="butt"/>
<text class="tick" x="192.5" y="1450.3" text-anchor="end">1</text>
<text class="tick" x="192.5" y="1316.5" text-anchor="end" textLength="74.3">1.2</text>
<text class="tick" x="192.5" y="1182.7" text-anchor="end" textLength="74.3">1.4</text>
<text class="tick" x="192.5" y="1048.9" text-anchor="end" textLength="74.3">1.6</text>
<text class="tick" x="192.5" y="915.1" text-anchor="end" textLength="74.3">1.8</text>
<text class="tick" x="192.5" y="781.3" text-anchor="end">2</text>
<text class="tick" x="192.5" y="647.5" text-anchor="end" textLength="74.3">2.2</text>
<text class="tick" x="192.5" y="513.7" text-anchor="end" textLength="74.3">2.4</text>
<text class="tick" x="192.5" y="379.9" text-anchor="end" textLength="74.3">2.6</text>
<text class="tick" x="2797" y="1455.1">3000</text>
<text class="tick" x="2797" y="1239.1">4000</text>
<text class="tick" x="2797" y="1023.0">5000</text>
<text class="tick" x="2797" y="807.0">6000</text>
<text class="tick" x="2797" y="591.0">7000</text>
<text class="tick" x="2797" y="374.9">8000</text>
<text class="tick" x="326.5" y="1652" text-anchor="middle">2014</text>
<text class="tick" x="577.5" y="1652" text-anchor="middle">2015</text>
<text class="tick" x="828.5" y="1652" text-anchor="middle">2016</text>
<text class="tick" x="1079.5" y="1652" text-anchor="middle">2017</text>
<text class="tick" x="1330.5" y="1652" text-anchor="middle">2018</text>
<text class="tick" x="1581.5" y="1652" text-anchor="middle">2019</text>
<text class="tick" x="1832.5" y="1652" text-anchor="middle">2020</text>
<text class="tick" x="2083.5" y="1652" text-anchor="middle">2021</text>
<text class="tick" x="2334.5" y="1652" text-anchor="middle">2022</text>
<text class="tick" x="2585.5" y="1652" text-anchor="middle">2023</text>
<rect x="2240.5" y="1118.5" width="509" height="429" fill="#fff" fill-opacity="0.42" stroke="#9a9a9a" stroke-width="0.9"/>
<path d="M2255,1173.1 L2345,1173.1" stroke="#1f77b4" stroke-width="6" fill="none"/>
<text x="2361.0" y="1196.1" style="font-size:56.08px;letter-spacing:-2.08px;">格雷厄姆指数</text>
<path d="M2255,1252.5 L2345,1252.5" stroke="#2ca02c" stroke-width="6" stroke-dasharray="27,27" fill="none"/>
<text x="2361.0" y="1275.5" style="font-size:56.08px;letter-spacing:-2.08px;">安全线</text>
<text x="2542.0" y="1273.5" textLength="122.7" style="font-size:54px;">2.09</text>
<path d="M2255,1331.9 L2345,1331.9" stroke="#7f7f7f" stroke-width="6" stroke-dasharray="27,27" fill="none"/>
<text x="2361.0" y="1354.9" style="font-size:56.08px;letter-spacing:-2.08px;">中位线</text>
<text x="2542.0" y="1352.9" textLength="122.7" style="font-size:54px;">1.86</text>
<path d="M2255,1411.3 L2345,1411.3" stroke="#ff7f0e" stroke-width="6" stroke-dasharray="27,27" fill="none"/>
<text x="2361.0" y="1434.3" style="font-size:56.08px;letter-spacing:-2.08px;">危险线</text>
<text x="2542.0" y="1432.3" textLength="122.7" style="font-size:54px;">1.49</text>
<path d="M2255,1490.7 L2345,1490.7" stroke="#d62728" stroke-width="6" fill="none"/>
<text x="2361.0" y="1513.7" style="font-size:56.08px;letter-spacing:-2.08px;">中证全指</text>
<text x="2579.0" y="1511.7" style="font-size:54px;">(</text>
<text x="2601.5" y="1513.7" style="font-size:56.08px;letter-spacing:-2.08px;">右轴</text>
<text x="2711.0" y="1511.7" style="font-size:54px;">)</text>
<text x="1183.5" y="1736.0" style="font-size:46.73px;letter-spacing:-1.73px;fill:#808080">原创：闻道践行，未经授权严禁转载</text>
<g style="font-size:78.5px;letter-spacing:-2px;font-weight:400"><text x="2393" y="1741.5" style="fill:#000">头条</text><text x="2560" y="1739" style="font-size:88px;fill:#000">@</text><text x="2646.5" y="1741.5" style="fill:#000">闻道践行</text><text x="2388" y="1736.5" style="fill:#fff">头条</text><text x="2555" y="1734" style="font-size:88px;fill:#fff">@</text><text x="2641.5" y="1736.5" style="fill:#fff">闻道践行</text></g>
</svg></body></html>
